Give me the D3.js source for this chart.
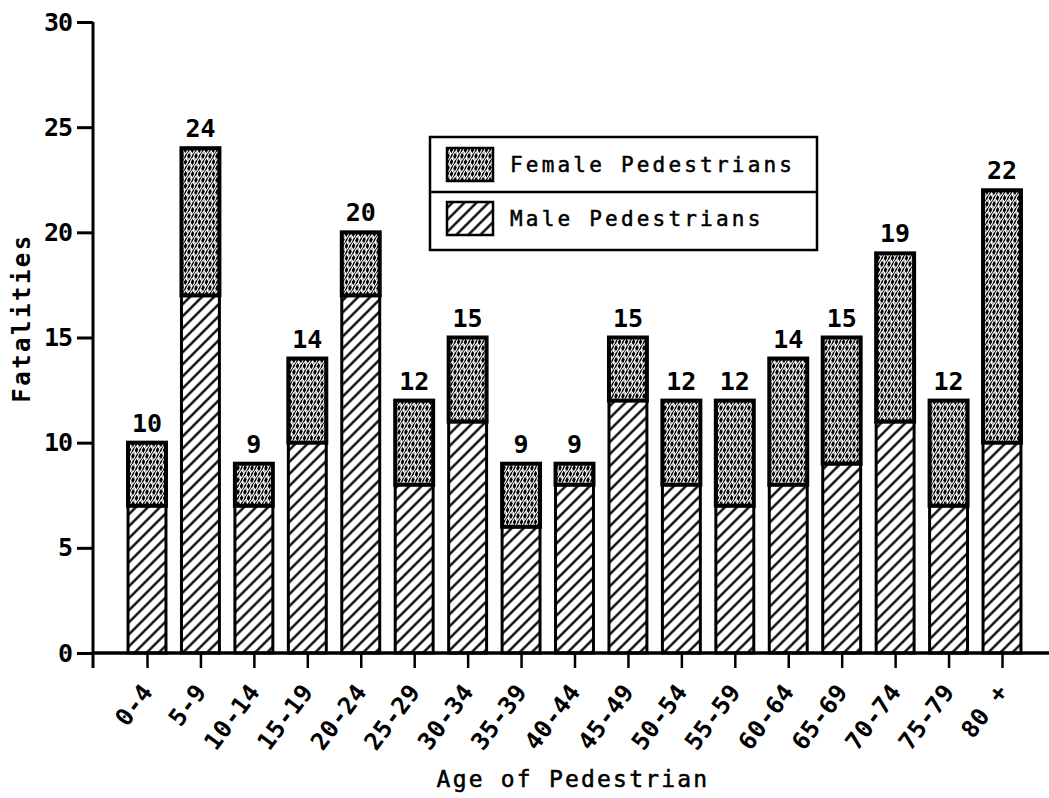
<!DOCTYPE html>
<html><head><meta charset="utf-8">
<script src="https://cdn.jsdelivr.net/npm/d3@7"></script>
<style>body{margin:0;background:#fff}svg{display:block}</style>
</head><body>
<script>
const categories = ["0-4","5-9","10-14","15-19","20-24","25-29","30-34","35-39","40-44","45-49","50-54","55-59","60-64","65-69","70-74","75-79","80 +"];
const maleValues   = [7,17,7,10,17,8,11,6,8,12,8,7,8,9,11,7,10];
const femaleValues = [3,7,2,4,3,4,4,3,1,3,4,5,6,6,8,5,12];
const yTicks = [0,5,10,15,20,25,30];
const seriesNames = ["Female Pedestrians","Male Pedestrians"];

const W=1049,H=798;
const FONT='"DejaVu Sans Mono", "Liberation Mono", monospace';
const svg=d3.select("body").append("svg").attr("width",W).attr("height",H);
const defs=svg.append("defs");

// male hatch
const pm=defs.append("pattern").attr("id","male").attr("patternUnits","userSpaceOnUse")
  .attr("width",8.5).attr("height",8.5).attr("patternTransform","rotate(45)");
pm.append("rect").attr("width",8.5).attr("height",8.5).attr("fill","#fff");
pm.append("line").attr("x1",4.25).attr("y1",0).attr("x2",4.25).attr("y2",8.5).attr("stroke","#000").attr("stroke-width",2.3);

// female texture: black with white tilted loops
const pf=defs.append("pattern").attr("id","female").attr("patternUnits","userSpaceOnUse")
  .attr("width",7).attr("height",12);
pf.append("rect").attr("width",7).attr("height",12).attr("fill","#000");
[[3.5,6],[0,0],[7,0],[0,12],[7,12]].forEach(([cx,cy])=>{
  pf.append("ellipse").attr("cx",cx).attr("cy",cy).attr("rx",2.0).attr("ry",4.6)
    .attr("fill","none").attr("stroke","#fff").attr("stroke-width",1.1)
    .attr("transform",`rotate(22,${cx},${cy})`);
});

const x=d3.scalePoint().domain(categories).range([147,1002]);
const barW=x.step()*0.71;
const y=d3.scaleLinear().domain([0,30]).range([653,22]);
const axisX=93;

// bars
const g=svg.append("g");
categories.forEach((c,i)=>{
  const cx=x(c), m=maleValues[i], f=femaleValues[i];
  g.append("rect").attr("x",cx-barW/2).attr("y",y(m)).attr("width",barW).attr("height",y(0)-y(m))
    .attr("fill","url(#male)").attr("stroke","#000").attr("stroke-width",3);
  g.append("rect").attr("x",cx-barW/2).attr("y",y(m+f)).attr("width",barW).attr("height",y(m)-y(m+f))
    .attr("fill","url(#female)").attr("stroke","#000").attr("stroke-width",4);
  g.append("text").attr("x",cx).attr("y",y(m+f)-11).attr("text-anchor","middle")
    .attr("font-family",FONT).attr("font-weight","bold").attr("font-size",25).attr("letter-spacing",0)
    .text(m+f);
});

// y axis
const ya=svg.append("g").attr("transform",`translate(${axisX},0)`)
  .call(d3.axisLeft(y).tickValues(yTicks).tickSize(16).tickPadding(5));
ya.select(".domain").remove();
ya.selectAll(".tick line").attr("stroke","#000").attr("stroke-width",3);
ya.selectAll(".tick text").attr("font-family",FONT).attr("font-weight","bold").attr("font-size",25)
  .attr("letter-spacing",-1).attr("fill","#000");
svg.append("line").attr("x1",axisX).attr("x2",axisX).attr("y1",y(30)).attr("y2",668).attr("stroke","#000").attr("stroke-width",3);

// x axis
const xa=svg.append("g").attr("transform",`translate(0,${y(0)})`)
  .call(d3.axisBottom(x).tickSize(15).tickFormat(""));
xa.select(".domain").remove();
xa.selectAll(".tick line").attr("stroke","#000").attr("stroke-width",2.5);
svg.append("line").attr("x1",axisX).attr("x2",W).attr("y1",y(0)).attr("y2",y(0)).attr("stroke","#000").attr("stroke-width",3.5);

// rotated category labels
svg.append("g").selectAll("text").data(categories).join("text")
  .attr("transform",d=>`translate(${x(d)+7},${692}) rotate(-53)`)
  .attr("text-anchor","end").attr("font-family",FONT).attr("font-weight","bold")
  .attr("font-size",24).attr("letter-spacing",0.5).text(d=>d);

// axis titles
svg.append("text").attr("x",573).attr("y",787).attr("text-anchor","middle")
  .attr("font-family",FONT).attr("font-size",23).attr("letter-spacing",2.2).attr("stroke","#000").attr("stroke-width",0.5).text("Age of Pedestrian");
svg.append("text").attr("transform","translate(30,318) rotate(-90)").attr("text-anchor","middle")
  .attr("font-family",FONT).attr("font-weight","bold").attr("font-size",24).attr("letter-spacing",2.5).text("Fatalities");

// legend
const lg=svg.append("g");
lg.append("rect").attr("x",430).attr("y",137).attr("width",387).attr("height",113).attr("fill","#fff").attr("stroke","#000").attr("stroke-width",2.5);
lg.append("line").attr("x1",430).attr("x2",817).attr("y1",192).attr("y2",192).attr("stroke","#000").attr("stroke-width",2.5);
const fills=["url(#female)","url(#male)"];
seriesNames.forEach((n,i)=>{
  const yy=148+i*54;
  lg.append("rect").attr("x",447).attr("y",yy).attr("width",46).attr("height",33)
    .attr("fill",fills[i]).attr("stroke","#000").attr("stroke-width",2.5);
  lg.append("text").attr("x",510).attr("y",yy+24).attr("font-family",FONT).attr("font-size",21)
    .attr("letter-spacing",3.2).attr("stroke","#000").attr("stroke-width",0.5).text(n);
});
</script>
</body></html>
